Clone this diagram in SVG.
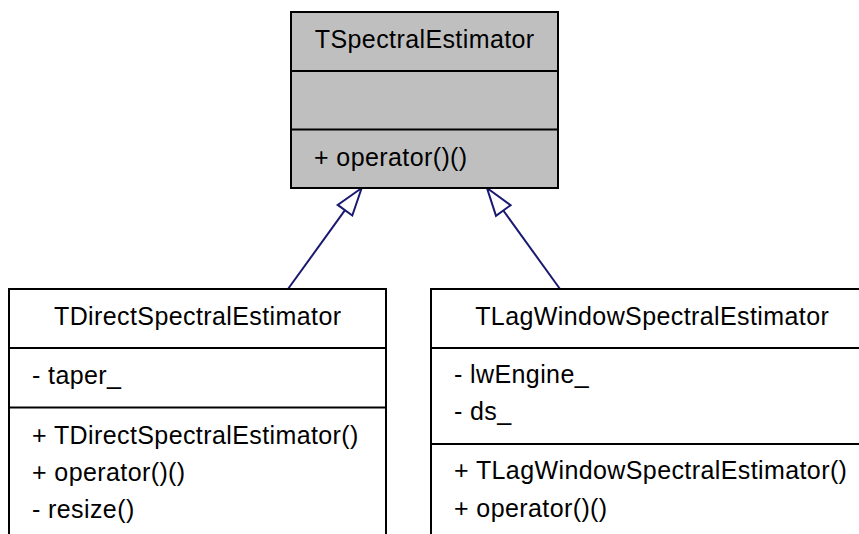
<svg xmlns="http://www.w3.org/2000/svg" width="859" height="534" viewBox="0 0 859 534">
<defs>
<style>
.box{fill:#ffffff;stroke:#000000;stroke-width:2}
.gray{fill:#bfbfbf}
.sep{stroke:#000000;stroke-width:2}
text{font-family:"Liberation Sans",Arial,Helvetica,sans-serif;font-size:25px;letter-spacing:0.4px;fill:#000000}
.c{text-anchor:middle}
.edge{stroke:#191970;stroke-width:2;fill:none}
.head{stroke:#191970;stroke-width:2;fill:#ffffff}
</style>
</defs>
<rect width="859" height="534" fill="#ffffff"/>
<g id="connectors">
<line class="edge" x1="288" y1="289" x2="345" y2="210.2"/>
<polygon class="head" points="361.7,188 352.3,215.5 337.7,204.9"/>
<line class="edge" x1="560" y1="289" x2="503.3" y2="210.5"/>
<polygon class="head" points="487,188 510.6,205.2 496,215.8"/>
</g>
<g id="TSpectralEstimator">
<rect class="box gray" x="291" y="12" width="267" height="176"/>
<line class="sep" x1="291" y1="71" x2="558" y2="71"/>
<line class="sep" x1="291" y1="129.5" x2="558" y2="129.5"/>
<text class="c" x="424.7" y="47.5">TSpectralEstimator</text>
<text x="314" y="165.5">+ operator()()</text>
</g>
<g id="TDirectSpectralEstimator">
<rect class="box" x="9" y="289" width="377" height="260"/>
<line class="sep" x1="9" y1="348" x2="386" y2="348"/>
<line class="sep" x1="9" y1="407.5" x2="386" y2="407.5"/>
<text class="c" x="197.7" y="325">TDirectSpectralEstimator</text>
<text x="32" y="384">- taper_</text>
<text x="32" y="443.5">+ TDirectSpectralEstimator()</text>
<text x="32" y="480.5">+ operator()()</text>
<text x="32" y="517.5">- resize()</text>
</g>
<g id="TLagWindowSpectralEstimator">
<rect class="box" x="431" y="289" width="442" height="260"/>
<line class="sep" x1="431" y1="348" x2="873" y2="348"/>
<line class="sep" x1="431" y1="444" x2="873" y2="444"/>
<text class="c" x="652.2" y="325">TLagWindowSpectralEstimator</text>
<text x="454" y="383">- lwEngine_</text>
<text x="454" y="420">- ds_</text>
<text x="454" y="479">+ TLagWindowSpectralEstimator()</text>
<text x="454" y="516.5">+ operator()()</text>
</g>
</svg>
